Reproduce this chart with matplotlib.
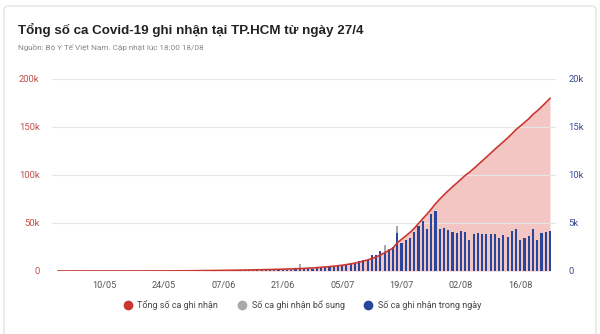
import matplotlib.pyplot as plt
import matplotlib.dates as mdates
from matplotlib.lines import Line2D
from matplotlib.patches import FancyBboxPatch
import pandas as pd

# Số liệu (29/04 -> 23/08)
dates = pd.date_range("2021-04-29", periods=117, freq="D")

# số ca ghi nhận trong ngày (trục phải)
daily = [0, 1, 0, 2, 1, 0, 3, 1, 2, 1,
         2, 1, 3, 2, 1, 4, 2, 3, 2, 5,
         4, 6, 5, 8, 7, 10, 9, 12, 20, 30,
         35, 40, 45, 50, 48, 52, 50, 55, 58, 60,
         65, 70, 72, 68, 75, 80, 78, 85, 95, 100,
         98, 110, 115, 120, 130, 140, 160, 190, 200, 230,
         260, 300, 350, 400, 450, 450, 500, 600, 700, 800,
         850, 1000, 1150, 1150, 1650, 1650, 2100, 1900, 2250, 2500,
         4000, 2900, 3200, 3400, 4100, 4700, 5200, 4400, 5900, 6250,
         4400, 4500, 4300, 4100, 4000, 4150, 4100, 3200, 3850, 4000,
         3850, 3850, 3900, 3850, 3400, 3750, 3500, 4150, 4400, 3200,
         3400, 3650, 4350, 3200, 4000, 4050, 4150]

# số ca ghi nhận bổ sung
extra = [0] * 117
extra[57] = 500
extra[77] = 800
extra[80] = 700

# tổng số ca ghi nhận (trục trái)
total = [0, 0, 0, 0, 10, 10, 10, 10, 20, 20,
         20, 20, 30, 30, 30, 40, 40, 50, 50, 60,
         60, 70, 80, 90, 100, 110, 120, 130, 150, 180,
         210, 250, 300, 350, 400, 450, 500, 550, 600, 660,
         720, 790, 860, 930, 1000, 1080, 1160, 1250, 1350, 1450,
         1550, 1660, 1780, 1900, 2030, 2170, 2330, 2520, 2720, 2950,
         3200, 3500, 3850, 4200, 4600, 5000, 5500, 6000, 6700, 7400,
         8200, 9200, 10300, 11500, 13000, 14600, 16600, 19000, 21400, 24000,
         29500, 33000, 36500, 40200, 44500, 49500, 54500, 59200, 64500, 70000,
         74800, 79300, 83600, 87600, 91500, 95500, 99500, 102800, 106600, 110600,
         114600, 118600, 122700, 126800, 130600, 134600, 138500, 142800, 147400, 151000,
         154700, 158600, 163200, 166800, 171000, 175300, 179800]

tick_dates = pd.to_datetime(["2021-05-10", "2021-05-24", "2021-06-07", "2021-06-21",
                             "2021-07-05", "2021-07-19", "2021-08-02", "2021-08-16"])
left_ticks = [0, 50000, 100000, 150000, 200000]
left_labels = ["0", "50k", "100k", "150k", "200k"]
right_ticks = [0, 5000, 10000, 15000, 20000]
right_labels = ["0", "5k", "10k", "15k", "20k"]

RED = "#c9372f"
BLUE = "#28479a"
GREY = "#a9a9a9"
FONT = "Roboto"

fig = plt.figure(figsize=(6, 3.34), dpi=100)
card = FancyBboxPatch((4 / 600, -0.05), 592 / 600, 1 - 6 / 334 + 0.05,
                      boxstyle="round,pad=0,rounding_size=0.01",
                      transform=fig.transFigure, fc="white", ec="#e3e3e3", lw=1, zorder=-10)
fig.patches.append(card)

fig.text(18 / 600, 1 - 34 / 334, "Tổng số ca Covid-19 ghi nhận tại TP.HCM từ ngày 27/4",
         fontsize=9.6, fontweight="bold", family="Liberation Sans", color="#222222")
fig.text(18 / 600, 1 - 50 / 334, "Nguồn: Bộ Y Tế Việt Nam. Cập nhật lúc 18:00 18/08",
         fontsize=5.9, family=FONT, color="#888888")

rect = [52 / 600, 63 / 334, 504 / 600, 192 / 334]
ax = fig.add_axes(rect)      # vùng tô
ax2 = ax.twinx()             # cột
ax3 = ax.twinx()             # đường tổng

ax.fill_between(dates, total, color="#f3c6c4", lw=0)
ax2.bar(dates, daily, width=0.5, color=BLUE, zorder=3)
ax2.bar(dates, extra, bottom=daily, width=0.5, color=GREY, zorder=3)
ax3.plot(dates, total, color=RED, lw=1.2)

x0 = dates[0] - pd.Timedelta(hours=34)
x1 = dates[-1] + pd.Timedelta(hours=34)
for a in (ax, ax2, ax3):
    a.set_xlim(x0, x1)
    for s in a.spines.values():
        s.set_visible(False)
ax.set_ylim(0, 200000)
ax3.set_ylim(0, 200000)
ax2.set_ylim(0, 20000)

ax.set_yticks(left_ticks)
ax.set_yticklabels(left_labels, fontsize=6.8, color="#c0504d", family=FONT)
ax.grid(axis="y", color="#e6e6e6", lw=0.8)
ax.tick_params(axis="y", length=0, pad=9)
ax2.set_yticks(right_ticks)
ax2.set_yticklabels(right_labels, fontsize=6.8, color="#3c4d8f", family=FONT)
ax2.tick_params(axis="y", length=0, pad=9)
ax3.set_yticks([])

ax.set_xticks(tick_dates)
ax.xaxis.set_major_formatter(mdates.DateFormatter("%d/%m"))
ax.tick_params(axis="x", length=0, pad=7, labelsize=6.6, labelcolor="#555555")
for t in ax.get_xticklabels():
    t.set_family(FONT)

handles = [Line2D([], [], ls="", marker="o", ms=6, color=c) for c in (RED, GREY, BLUE)]
fig.legend(handles, ["Tổng số ca ghi nhận", "Số ca ghi nhận bổ sung", "Số ca ghi nhận trong ngày"],
           loc="center", bbox_to_anchor=(0.5, 1 - 305 / 334), ncol=3, frameon=False,
           prop={"family": FONT, "size": 6.5}, labelcolor="#444444",
           handletextpad=0.1, columnspacing=1.6)

fig.savefig("out.png", dpi=100, facecolor="white")
